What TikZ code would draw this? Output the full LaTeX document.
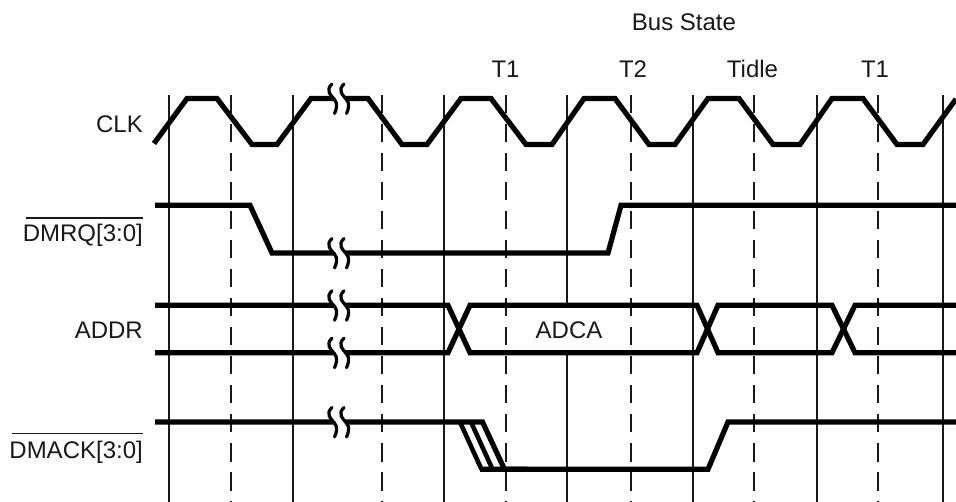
\documentclass[tikz,border=0pt]{standalone}
\usepackage{fontspec}
\setmainfont{Liberation Sans}
\begin{document}
\begin{tikzpicture}[x=1pt,y=-1pt,
  sig/.style={line width=5.2pt,black,miter limit=10},
  thin sig/.style={line width=4.6pt,black},
  grid solid/.style={line width=2pt,black!90},
  grid dash/.style={line width=2pt,black!90,dash pattern=on 18.5pt off 10.5pt},
  lab/.style={font=\fontsize{24}{28}\selectfont,inner sep=0pt,text=black!90},
  bar/.style={line width=1.5pt,black!90},
  cut/.style={line width=3.2pt,black,line cap=round}]
\useasboundingbox (0,0) rectangle (956,502);
\fill[white] (0,0) rectangle (956,502);
\foreach \x in {168.5,293,443.5,693,816.7,943} \draw[grid solid] (\x,95) -- (\x,502);
\draw[grid solid] (567,95) -- (567,305) (567,352.7) -- (567,502);
\foreach \x in {230.7,381.7,505.7,630.5,754.3,878.3} \draw[grid dash] (\x,95) -- (\x,502);
% CLK
\draw[sig] (154,143.5) -- (187,98.5) -- (217,98.5) -- (252,144.5) -- (277,144.5) -- (311,98.5) -- (368,98.5)
 -- (402,144.5) -- (427,144.5) -- (461,98.5) -- (491,98.5) -- (526,144.5) -- (552,144.5) -- (584,98.5) -- (615,98.5)
 -- (649,144.5) -- (675,144.5) -- (708,98.5) -- (739,98.5) -- (773,144.5) -- (800,144.5) -- (832,98.5) -- (863,98.5)
 -- (897,144.5) -- (923,144.5) -- (956,99);
% DMRQ
\draw[sig] (155,205.3) -- (250,205.3) -- (272,253) -- (608,253) -- (621,205.3) -- (956,205.3);
% ADDR
\draw[sig] (155,305.3) -- (448,305.3) -- (470,352.7) -- (697,352.7) -- (718,305.3) -- (832,305.3) -- (855,352.7) -- (956,352.7);
\draw[sig] (155,352.7) -- (448,352.7) -- (470,305.3) -- (697,305.3) -- (718,352.7) -- (832,352.7) -- (855,305.3) -- (956,305.3);
% DMACK
\draw[sig] (155,422) -- (482.5,422) -- (504.5,469.3) -- (527,469.3);
\draw[thin sig] (460,422) -- (481.5,469.3);
\draw[thin sig] (471,422) -- (492.5,469.3);
\draw[sig] (480,469.3) -- (708,469.3) -- (728,422) -- (956,422);
% breaks
\foreach \y in {98.5,253,305.3,352.7,422} {
  \fill[white] (332,\y-11) -- (343.5,\y-11) .. controls (338,\y-3) and (349,\y+3) .. (347,\y+12) -- (335.5,\y+12) .. controls (337.5,\y+3) and (327,\y-3) .. (332,\y-11) -- cycle;
  \foreach \dx in {0,12} {
    \draw[cut] (332+\dx,\y-14.5) .. controls (325+\dx,\y-8) and (331+\dx,\y-3) .. (334.5+\dx,\y+1) .. controls (338+\dx,\y+5) and (336.5+\dx,\y+11) .. (334.5+\dx,\y+15);
  }
}
% labels
\node[lab,anchor=base] (busstate) at (684,30.7) {Bus State};
\node[lab,anchor=base] (t1a) at (505.5,78) {T1};
\node[lab,anchor=base] (t2) at (633,78) {T2};
\node[lab,anchor=base] (tidle) at (752.5,78) {Tidle};
\node[lab,anchor=base] (t1b) at (875,78) {T1};
\node[lab,anchor=base east] (clk) at (143,132.3) {CLK};
\node[lab,anchor=base east] (dmrq) at (143,241.7) {DMRQ[3:0]};
\node[lab,anchor=base east] (addr) at (143,338.3) {ADDR};
\node[lab,anchor=base east] (dmack) at (143,458.3) {DMACK[3:0]};
\node[lab,anchor=base] (adca) at (569,338.3) {ADCA};
\draw[bar] ([xshift=3pt,yshift=23.7pt]dmrq.base west) -- ([yshift=23.7pt]dmrq.base east);
\draw[bar] ([xshift=3pt,yshift=25pt]dmack.base west) -- ([yshift=25pt]dmack.base east);
\end{tikzpicture}
\end{document}
